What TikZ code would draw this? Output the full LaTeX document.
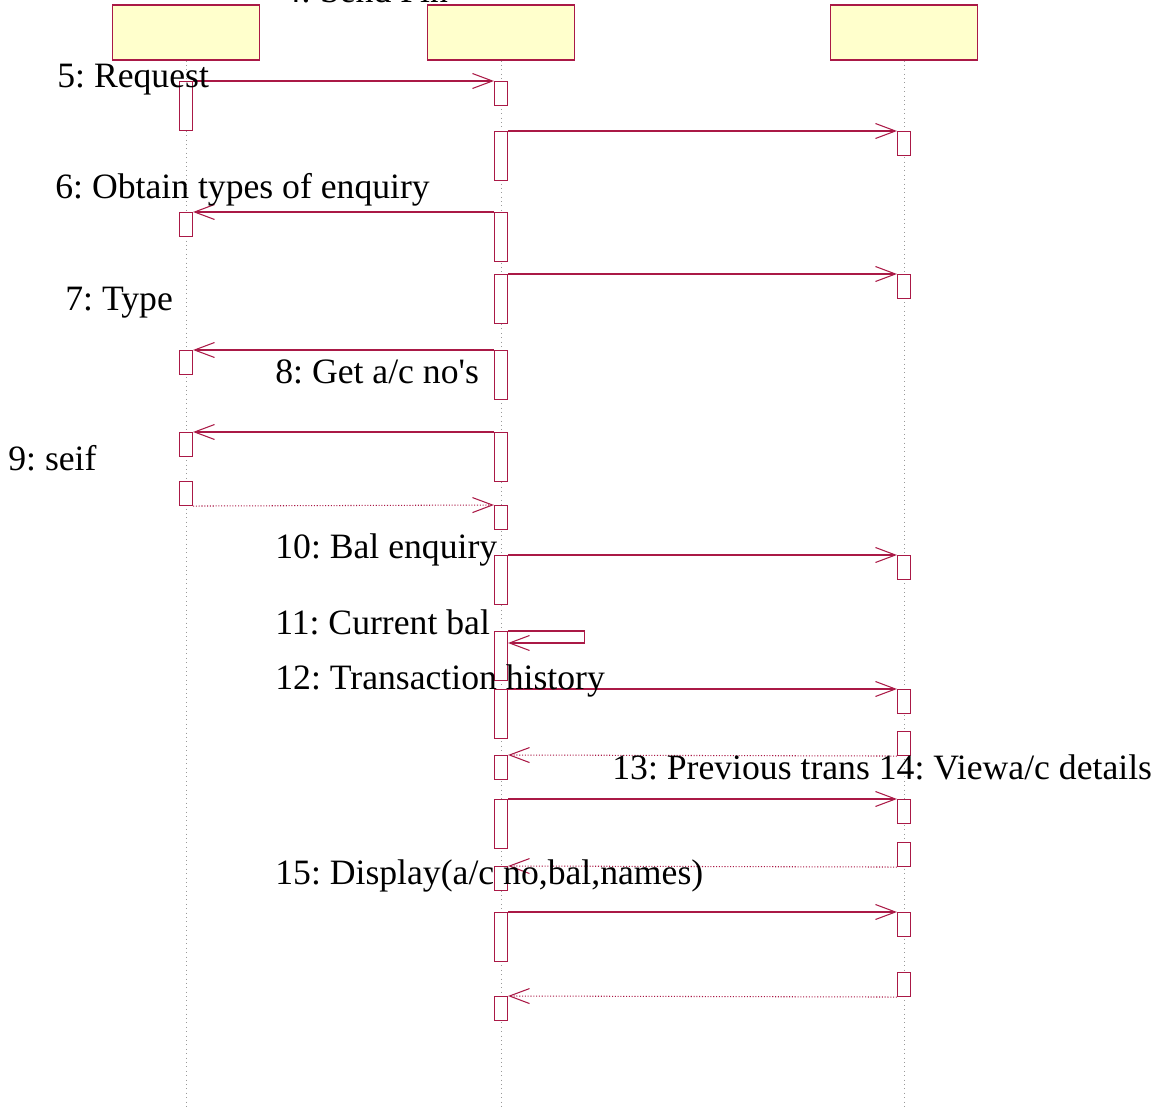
\documentclass[tikz,border=0pt]{standalone}
\usepackage{fontspec}
\setmainfont{Liberation Serif}
\usetikzlibrary{arrows.meta}
\frenchspacing

\definecolor{umlred}{RGB}{170,25,70}
\definecolor{umlfill}{RGB}{255,255,204}

\begin{document}
\begin{tikzpicture}[x=0.02cm, y=-0.02cm,
    head/.style={rectangle, draw=umlred, fill=umlfill, line width=0.6pt,
                 minimum width=2.94cm, minimum height=1.1cm},
    actS/.style={rectangle, draw=umlred, fill=white, line width=0.6pt,
                 anchor=north, inner sep=0pt,
                 minimum width=0.26cm, minimum height=0.48cm},
    actL/.style={actS, minimum height=0.98cm},
    life/.style={gray!80, dotted, line width=0.5pt},
    msg/.style={-{Straight Barb[length=0.4cm, width=0.3cm]},
                draw=umlred, line width=0.6pt},
    ret/.style={msg, densely dotted},
    lbl/.style={anchor=base west, inner sep=0pt,
                font=\fontsize{20.3}{24}\selectfont}
]
    \useasboundingbox (0,0) rectangle (1171,1108);

    % Objekte
    \node[head] (cust) at (186,32.5) {};
    \node[head] (atm)  at (501,32.5) {};
    \node[head] (bank) at (904,32.5) {};

    % Lebenslinien
    \coordinate (custEnd) at (186,1108);
    \coordinate (atmEnd)  at (501,1108);
    \coordinate (bankEnd) at (904,1108);
    \draw[life] (cust.south) -- (custEnd);
    \draw[life] (atm.south)  -- (atmEnd);
    \draw[life] (bank.south) -- (bankEnd);

    % Aktivierungen Kunde
    \node[actL] (a1) at (186,81)  {};
    \node[actS] (a2) at (186,212) {};
    \node[actS] (a3) at (186,350) {};
    \node[actS] (a4) at (186,432) {};
    \node[actS] (a5) at (186,481) {};

    % Aktivierungen ATM
    \node[actS] (b1)  at (501,81)  {};
    \node[actL] (b2)  at (501,131) {};
    \node[actL] (b3)  at (501,212) {};
    \node[actL] (b4)  at (501,274) {};
    \node[actL] (b5)  at (501,350) {};
    \node[actL] (b6)  at (501,432) {};
    \node[actS] (b7)  at (501,505) {};
    \node[actL] (b8)  at (501,555) {};
    \node[actL] (b9)  at (501,631) {};
    \node[actL] (b10) at (501,689) {};
    \node[actS] (b11) at (501,755) {};
    \node[actL] (b12) at (501,799) {};
    \node[actS] (b13) at (501,866) {};
    \node[actL] (b14) at (501,912) {};
    \node[actS] (b15) at (501,996) {};

    % Aktivierungen Bank
    \node[actS] (c1) at (904,131) {};
    \node[actS] (c2) at (904,274) {};
    \node[actS] (c3) at (904,555) {};
    \node[actS] (c4) at (904,689) {};
    \node[actS] (c5) at (904,731) {};
    \node[actS] (c6) at (904,799) {};
    \node[actS] (c7) at (904,842) {};
    \node[actS] (c8) at (904,912) {};
    \node[actS] (c9) at (904,972) {};

    % Nachrichten
    \draw[msg] (a1.north east) -- (b1.north west);
    \draw[msg] (b2.north east) -- (c1.north west);
    \draw[msg] (b3.north west) -- (a2.north east);
    \draw[msg] (b4.north east) -- (c2.north west);
    \draw[msg] (b5.north west) -- (a3.north east);
    \draw[msg] (b6.north west) -- (a4.north east);
    \draw[ret] (a5.south east) -- (b7.north west);
    \draw[msg] (b8.north east) -- (c3.north west);
    \draw[msg] (b9.north east) -- ++(76,0)
        |- ([yshift=-0.24cm]b9.north east);
    \draw[msg] (b10.north east) -- (c4.north west);
    \draw[ret] (c5.south west) -- (b11.north east);
    \draw[msg] (b12.north east) -- (c6.north west);
    \draw[ret] (c7.south west) -- (b13.north east);
    \draw[msg] (b14.north east) -- (c8.north west);
    \draw[ret] (c9.south west) -- (b15.north east);

    % Beschriftungen
    \node[lbl] (l4)  at (283,3)   {4: Send Pin};
    \node[lbl] (l5)  at (57,88)   {5: Request};
    \node[lbl] (l6)  at (55,199)  {6: Obtain types of enquiry};
    \node[lbl] (l7)  at (65,311)  {7: Type};
    \node[lbl] (l8)  at (275,384) {8: Get a/c no\textquotesingle s};
    \node[lbl] (l9)  at (8,471)   {9: seif};
    \node[lbl] (l10) at (275,559) {10: Bal enquiry};
    \node[lbl] (l11) at (275,634) {11: Current bal};
    \node[lbl] (l12) at (275,689) {12: Transaction history};
    \node[lbl] (l13) at (612,779) {13: Previous trans 14: Viewa/c details};
    \node[lbl] (l15) at (275,884) {15: Display(a/c no,bal,names)};

\end{tikzpicture}
\end{document}
